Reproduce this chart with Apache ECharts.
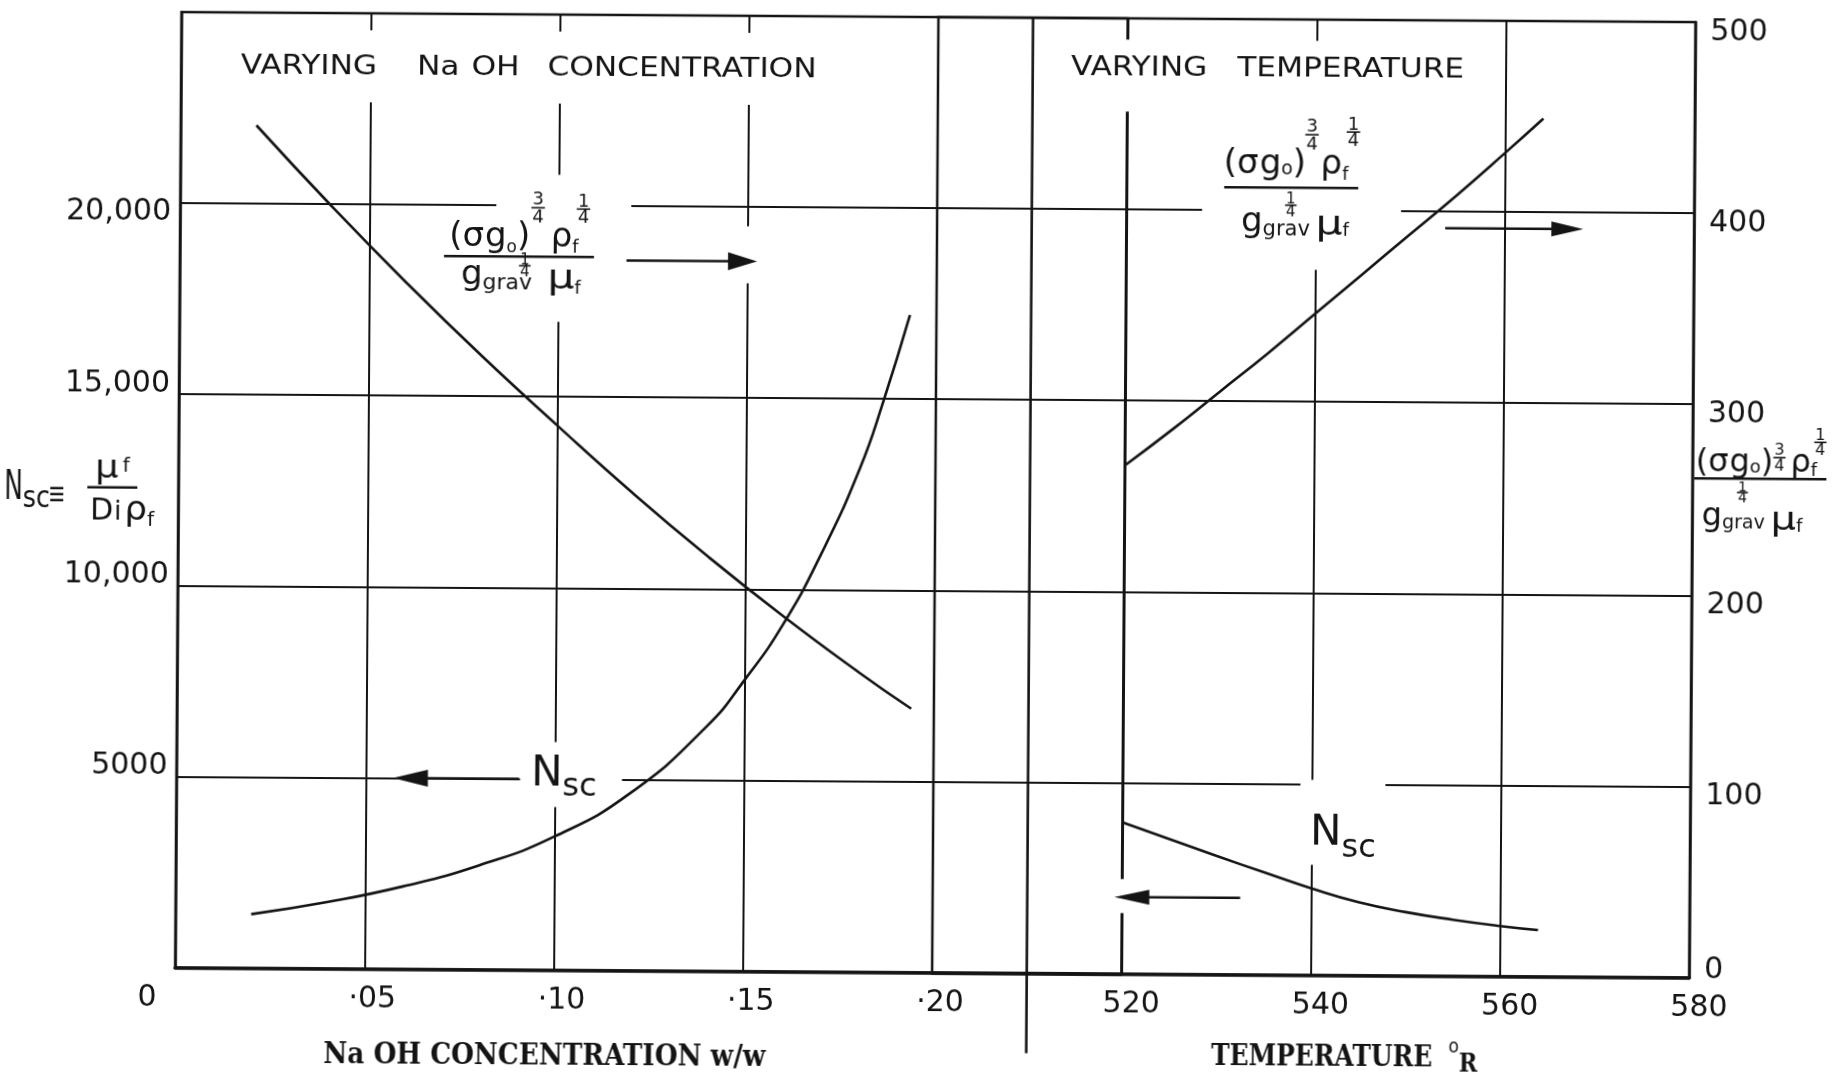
<!DOCTYPE html>
<html>
<head>
<meta charset="utf-8">
<script src="https://cdn.jsdelivr.net/npm/echarts@6/dist/echarts.min.js"></script>
<style>
  html, body { margin: 0; padding: 0; background: #fff; overflow: hidden; }
  #chart { width: 1845px; height: 1077px; transform: rotate(0.38deg); transform-origin: 50% 50%; }
</style>
</head>
<body>
<div id="chart"></div>
<script>
// ---- data -------------------------------------------------------------
// Varying NaOH concentration (weight fraction)
const naohConc      = [0.02, 0.04, 0.06, 0.08, 0.10, 0.12, 0.14, 0.16, 0.18, 0.194];
const naohGroup     = [441, 399, 359, 321, 285, 250, 217, 186, 157, 138];          // right scale
const naohConcSc    = [0.02, 0.04, 0.06, 0.08, 0.10, 0.12, 0.14, 0.15, 0.16, 0.17, 0.18, 0.186, 0.193];
const naohSchmidt   = [1410, 1739, 2162, 2722, 3495, 4647, 6400, 7630, 9083, 10940, 13170, 14900, 17200];
// Varying temperature (deg R)
const tempR         = [520, 525, 530, 535, 540, 545, 550, 555, 560, 564];
const tempGroup     = [266, 285, 305, 325, 346, 367, 388, 409, 431, 449];          // right scale
const tempSchmidt   = [3966, 3533, 3100, 2680, 2270, 1915, 1665, 1473, 1316, 1216];

// ---- tick labels ------------------------------------------------------
const concTickLabels    = ['0', '·05', '·10', '·15', '·20'];
const tempTickLabels    = ['', '520', '540', '560', '580'];
const schmidtTickLabels = ['', '5000', '10,000', '15,000', '20,000', ''];
const groupTickLabels   = ['0', '100', '200', '300', '400', '500'];

// ---- styling / layout -------------------------------------------------
const INK = '#141414';
const LETTER = '"DejaVu Sans", sans-serif';
const TYPE = '"DejaVu Serif", serif';
const GRID_LEFT = 178, GRID_RIGHT = 153, GRID_TOP = 17, GRID_BOTTOM = 104.5;
const UNIT = (1845 - GRID_LEFT - GRID_RIGHT) / 8;   // width of one grid division
const TICK_FS = 30;

const zip = (xs, ys) => xs.map((x, i) => [x, ys[i]]);

const chart = echarts.init(document.getElementById('chart'), null, { renderer: 'canvas' });

const gridLine = { show: true, lineStyle: { color: INK, width: 2 } };
const tickFont = { fontFamily: LETTER, fontSize: TICK_FS, color: INK };

const curve = (name, xi, yi, data) => ({
  name, type: 'line', xAxisIndex: xi, yAxisIndex: yi, data,
  smooth: 0.5, showSymbol: false, silent: true, z: 20,
  lineStyle: { color: INK, width: 2.6 }
});

chart.setOption({
  animation: false,
  backgroundColor: '#fff',
  grid: [
    { left: GRID_LEFT, top: GRID_TOP, bottom: GRID_BOTTOM, width: UNIT * 5,
      show: true, borderColor: INK, borderWidth: 2.5, outerBoundsMode: 'none', containLabel: false },
    { left: GRID_LEFT + UNIT * 4, top: GRID_TOP, bottom: GRID_BOTTOM, width: UNIT * 4,
      show: true, borderColor: INK, borderWidth: 2.5, outerBoundsMode: 'none', containLabel: false }
  ],
  xAxis: [
    { gridIndex: 0, type: 'value', min: 0, max: 0.25, interval: 0.05,
      axisLine: { show: true, onZero: false, lineStyle: { color: INK, width: 3.5 } },
      axisTick: { show: false }, splitLine: gridLine,
      axisLabel: {
        margin: 16, ...tickFont,
        formatter: v => {
          const i = Math.round(v / 0.05);
          if (i === 0) return '{z|' + concTickLabels[0] + '}';
          return i < concTickLabels.length ? '{a|' + concTickLabels[i] + '}' : '';
        },
        rich: {
          z: { ...tickFont, padding: [0, 56, 0, 0] },
          a: { ...tickFont, padding: [0, 0, 0, 16] }
        }
      } },
    { gridIndex: 1, type: 'value', min: 500, max: 580, interval: 20,
      axisLine: { show: true, onZero: false, lineStyle: { color: INK, width: 3.5 } },
      axisTick: { show: false }, splitLine: gridLine,
      axisLabel: {
        margin: 16, ...tickFont,
        formatter: v => {
          const s = tempTickLabels[Math.round((v - 500) / 20)];
          return s ? '{a|' + s + '}' : '';
        },
        rich: { a: { ...tickFont, padding: [0, 0, 0, 20] } }
      } }
  ],
  yAxis: [
    { gridIndex: 0, type: 'value', position: 'left', min: 0, max: 25000, interval: 5000,
      axisLine: { show: true, onZero: false, lineStyle: { color: INK, width: 2.5 } },
      axisTick: { show: false }, splitLine: gridLine,
      axisLabel: {
        margin: 9, ...tickFont,
        formatter: v => {
          const i = Math.round(v / 5000);
          const s = schmidtTickLabels[i];
          if (!s) return '';
          return (i === 4 ? '{d|' : '{u|') + s + '}';
        },
        rich: {
          u: { ...tickFont, padding: [0, 0, 20, 0] },
          d: { ...tickFont, padding: [18, 0, 0, 0] }
        }
      } },
    { gridIndex: 0, type: 'value', position: 'right', min: 0, max: 500, show: false },
    { gridIndex: 1, type: 'value', position: 'right', min: 0, max: 500, interval: 100,
      axisLine: { show: true, onZero: false, lineStyle: { color: INK, width: 2.5 } },
      axisTick: { show: false }, splitLine: gridLine,
      axisLabel: {
        margin: 15, ...tickFont,
        formatter: v => {
          const i = Math.round(v / 100);
          return (i === 0 ? '{z|' : '{r|') + groupTickLabels[i] + '}';
        },
        rich: {
          z: { ...tickFont, padding: [0, 0, 14, 0] },
          r: { ...tickFont, padding: [20, 0, 0, 0] }
        }
      } },
    { gridIndex: 1, type: 'value', position: 'left', min: 0, max: 25000, show: false }
  ],
  series: [
    curve('group-naoh',   0, 1, zip(naohConc, naohGroup)),
    curve('schmidt-naoh', 0, 0, zip(naohConcSc, naohSchmidt)),
    curve('group-temp',   1, 2, zip(tempR, tempGroup)),
    curve('schmidt-temp', 1, 3, zip(tempR, tempSchmidt))
  ]
});

// ---- lettering helpers -------------------------------------------------
const meas = document.createElement('canvas').getContext('2d');
const fontStr = (fs, ff, fw) => `${fw || 'normal'} ${fs}px ${ff}`;
function textW(t, fs, ff, fw) { meas.font = fontStr(fs, ff, fw); return meas.measureText(t).width; }
function baseOff(fs, ff, fw) {
  meas.font = fontStr(fs, ff, fw);
  meas.textBaseline = 'middle';
  const d = meas.measureText('H').actualBoundingBoxDescent;
  meas.textBaseline = 'alphabetic';
  return d;
}
function txt(t, x, yb, fs, o = {}) {
  const ff = o.ff || LETTER, fw = o.fw || 'normal';
  return {
    type: 'text', x, y: yb - baseOff(fs, ff, fw), scaleX: o.sx || 1, z: 12, silent: true,
    style: { text: t, fontSize: fs, fontFamily: ff, fontWeight: fw, fill: INK, align: 'left', verticalAlign: 'middle' }
  };
}
function hline(x1, x2, y, w) {
  return { type: 'line', z: 12, silent: true, shape: { x1, y1: y, x2, y2: y }, style: { stroke: INK, lineWidth: w || 2.5 } };
}
// a run of glyph groups laid out left to right on a common baseline
function run(pieces, x0, yb, base = {}) {
  const els = [];
  let x = x0;
  for (const p of pieces) {
    if (p.sp !== undefined) { x += p.sp; continue; }
    const ff = p.ff || base.ff || LETTER, fw = p.fw || base.fw || 'normal';
    const sx = (p.sx || 1) * (base.sx || 1);
    if (p.frac) {
      const [a, b] = p.frac;
      const wa = textW(a, p.fs, ff, fw) * sx, wb = textW(b, p.fs, ff, fw) * sx, w = Math.max(wa, wb);
      const ya = yb + p.dy, yb2 = ya + p.gap;
      els.push(txt(a, x + (w - wa) / 2, ya, p.fs, { ff, fw, sx }));
      els.push(txt(b, x + (w - wb) / 2, yb2, p.fs, { ff, fw, sx }));
      els.push(hline(x - 1, x + w + 1, ya + (p.gap - p.fs * 0.72) / 2 + 0.5, 1.6));
      x += w + (p.after || 0);
    } else {
      const w = textW(p.t, p.fs, ff, fw) * sx;
      els.push(txt(p.t, x, yb + (p.dy || 0), p.fs, { ff, fw, sx }));
      x += w + (p.after || 0);
    }
  }
  return { els, w: x - x0 };
}
const runW = (pieces, base) => run(pieces, 0, 0, base).w;
function centered(pieces, cx, yb, base) { return run(pieces, cx - runW(pieces, base) / 2, yb, base).els; }
function fraction(cx, ly, num, den, o) {
  return [
    ...centered(num, cx + (o.nx || 0), ly - o.nb),
    ...centered(den, cx + (o.dx || 0), ly + o.db),
    hline(cx - o.lineW / 2, cx + o.lineW / 2, ly, 2.5)
  ];
}
function arrow(xFrom, xTip, y, len, h) {
  const d = Math.sign(xTip - xFrom);
  return [
    hline(xFrom, xTip - d * len * 0.5, y, 2.4),
    { type: 'polygon', z: 12, silent: true,
      shape: { points: [[xTip, y], [xTip - d * len, y - h / 2], [xTip - d * len, y + h / 2]] },
      style: { fill: INK } }
  ];
}
function box(x, y, w, h) {
  return { type: 'rect', z: 10, silent: true, shape: { x, y, width: w, height: h }, style: { fill: '#fff' } };
}
// typewritten caption fitted to a given width
function caption(pieces, cx, yb, width) {
  const sx = width / runW(pieces);
  return centered(pieces, cx, yb, { sx });
}

// ---- annotation anchors (in axis units) --------------------------------
const P0 = (c, v) => chart.convertToPixel({ xAxisIndex: 0, yAxisIndex: 0 }, [c, v]);
const P1 = (t, g) => chart.convertToPixel({ xAxisIndex: 1, yAxisIndex: 2 }, [t, g]);

const DIVIDER_CONC = 0.225;

// formula pieces
const SUB = 18, BIG = 34;
const groupNumL = [
  { t: '(', fs: BIG }, { t: 'σ', fs: BIG, after: 1 }, { t: 'g', fs: BIG }, { t: 'o', fs: 17, dy: 6 },
  { t: ')', fs: BIG, after: 2 }, { frac: ['3', '4'], fs: 18, dy: -42, gap: 18, after: 7 },
  { t: 'ρ', fs: BIG }, { t: 'f', fs: SUB, dy: 6, after: -1 }, { frac: ['1', '4'], fs: 18, dy: -40, gap: 16 }
];
const groupDenL = [
  { t: 'g', fs: BIG }, { t: 'grav', fs: 22, dy: 5, after: -12 },
  { frac: ['1', '4'], fs: 15, dy: -20, gap: 12, after: 18 },
  { t: 'μ', fs: 34, dy: 4, sx: 1.25 }, { t: 'f', fs: SUB, dy: 9 }
];
const groupNumR = [
  { t: '(', fs: BIG }, { t: 'σ', fs: BIG, after: 1 }, { t: 'g', fs: BIG }, { t: 'o', fs: 19, dy: 1 },
  { t: ')', fs: BIG, after: 0 }, { frac: ['3', '4'], fs: 18, dy: -42, gap: 18, after: 3 },
  { t: 'ρ', fs: BIG }, { t: 'f', fs: SUB, dy: 6, after: -1 }, { frac: ['1', '4'], fs: 18, dy: -44, gap: 16 }
];
const groupDenR = [
  { t: 'g', fs: BIG }, { t: 'grav', fs: 21, dy: 4, after: -24 },
  { frac: ['1', '4'], fs: 15, dy: -28, gap: 13, after: 20 },
  { t: 'μ', fs: 34, dy: 3, sx: 1.25 }, { t: 'f', fs: SUB, dy: 4 }
];
const groupNumAxis = [
  { t: '(', fs: 32 }, { t: 'σ', fs: 32, after: 1 }, { t: 'g', fs: 32 }, { t: 'o', fs: 18, dy: 1 },
  { t: ')', fs: 32, after: 1 }, { frac: ['3', '4'], fs: 16, dy: -17, gap: 16, after: 6 },
  { t: 'ρ', fs: 32 }, { t: 'f', fs: SUB, dy: 4, after: -2 }, { frac: ['1', '4'], fs: 16, dy: -32, gap: 15 }
];
const groupDenAxis = [
  { t: 'g', fs: 32 }, { t: 'grav', fs: 19, dy: 3, after: -27 },
  { frac: ['1', '4'], fs: 14, dy: -34, gap: 11, after: 24 },
  { t: 'μ', fs: 32, dy: 4, sx: 1.25 }, { t: 'f', fs: SUB, dy: 6 }
];
const nsc = (fsN, fsS, dS) => [{ t: 'N', fs: fsN, after: 0 }, { t: 'sc', fs: fsS, dy: dS }];

function drawNotes() {
  const [gl, gb] = P0(0, 0);
  const [, gt] = P0(0, 25000);
  const [gr] = P1(580, 0);
  const els = [];

  // panel divider, running below the axis
  const [dx] = P0(DIVIDER_CONC, 0);
  els.push({ type: 'line', z: 12, silent: true, shape: { x1: dx, y1: gt, x2: dx, y2: gb + 80 },
             style: { stroke: INK, lineWidth: 2.6 } });

  // panel titles
  const TS = 1.2;
  const titleL = [{ t: 'VARYING', fs: 26 }, { sp: 40 }, { t: 'Na', fs: 26 }, { sp: 12 }, { t: 'OH', fs: 26 },
                  { sp: 28 }, { t: 'CONCENTRATION', fs: 26 }];
  const titleR = [{ t: 'VARYING', fs: 26 }, { sp: 30 }, { t: 'TEMPERATURE', fs: 26 }];
  let [x, y] = P0(0.0158, 23403);
  let w = runW(titleL, { sx: TS });
  els.push(box(x - 10, y - 44, w + 20, 72));
  els.push(...run(titleL, x, y, { sx: TS }).els);
  [x, y] = P1(514.06, 470);
  w = runW(titleR, { sx: TS });
  els.push(box(x - 10, y - 36, w + 20, 72));
  els.push(...run(titleR, x, y, { sx: TS }).els);

  // group-parameter label and arrow, concentration panel
  [x, y] = P0(0.0896, 18660);
  els.push(box(x - 23, y - 82, 135, 147));
  els.push(...fraction(x, y, groupNumL, groupDenL, { nb: 10, db: 28, lineW: 150, dx: 2 }));
  let [ax1, ay] = P0(0.118, 18576);
  let [ax2] = P0(0.1525, 18576);
  els.push(box(ax2 - 36, ay - 35, 44, 57));
  els.push(...arrow(ax1, ax2, ay, 29, 18));

  // Schmidt-number label and arrow, concentration panel
  [x, y] = P0(0.0937, 4840);
  els.push(box(x - 11, y - 43, 102, 65));
  els.push(...run(nsc(42, 32, 10), x, y).els);
  [ax1, ay] = P0(0.0905, 5000);
  [ax2] = P0(0.0572, 5000);
  els.push(...arrow(ax1, ax2, ay, 35, 17));

  // group-parameter label and arrow, temperature panel
  [x, y] = P1(537.4, 412);
  els.push(box(x - 89, y - 78, 199, 160));
  els.push(...fraction(x, y, groupNumR, groupDenR, { nb: 14, db: 44, lineW: 134, dx: 4 }));
  [ax1, ay] = P1(553.7, 391.3);
  [ax2] = P1(568.3, 391.3);
  els.push(...arrow(ax1, ax2, ay, 32, 15));

  // Schmidt-number label and arrow, temperature panel
  [x, y] = P1(539.85, 68.1);
  els.push(box(x - 10, y - 65, 85, 85));
  els.push(...run(nsc(42, 32, 12), x, y).els);
  [ax1, ay] = P1(532.5, 40.2);
  [ax2] = P1(519.2, 40.2);
  els.push(box(ax2 - 4, ay - 18, 40, 34));
  els.push(...arrow(ax1, ax2, ay, 35, 15));

  // left axis name: N_sc = mu_f / (D_i rho_f)
  const [, ly] = P0(0, 12550);
  els.push(...run([{ t: 'N', fs: 40, sx: 0.62 }, { t: 'sc', fs: 30, dy: 8, sx: 0.85 }], gl - 174, ly + 12).els);
  for (const k of [1, 7, 13]) els.push(hline(gl - 128, gl - 115, ly + k, 2.4));
  els.push(...fraction(gl - 66, ly,
    [{ t: 'μ', fs: 32, sx: 1.15, after: 4 }, { t: 'f', fs: 20, dy: -6 }],
    [{ t: 'D', fs: 30, after: 1 }, { t: 'i', fs: 26, after: 3 }, { t: 'ρ', fs: 34, sx: 1.05 }, { t: 'f', fs: 20, dy: 6 }],
    { nb: 10, db: 32, lineW: 50, nx: 0, dx: 10 }));

  // right axis name: the group parameter
  const [, ry] = P1(580, 261.3);
  els.push(...fraction(gr + 68, ry, groupNumAxis, groupDenAxis, { nb: 7, db: 47, lineW: 132, dx: -8 }));

  // axis titles
  const [cx1] = P0(0.0977, 0);
  els.push(...caption([{ t: 'Na OH CONCENTRATION w/w', fs: 29, ff: TYPE, fw: 'bold' }], cx1, gb + 94, 442));
  const [cx2] = P1(543.6, 0);
  els.push(...caption([{ t: 'TEMPERATURE', fs: 29, ff: TYPE, fw: 'bold', after: 16 },
                       { t: 'o', fs: 20, dy: -14, after: 0 },
                       { t: 'R', fs: 26, ff: TYPE, fw: 'bold', dy: 5 }], cx2, gb + 90, 264));

  chart.setOption({ graphic: { elements: els } });
}
drawNotes();
</script>
</body>
</html>
